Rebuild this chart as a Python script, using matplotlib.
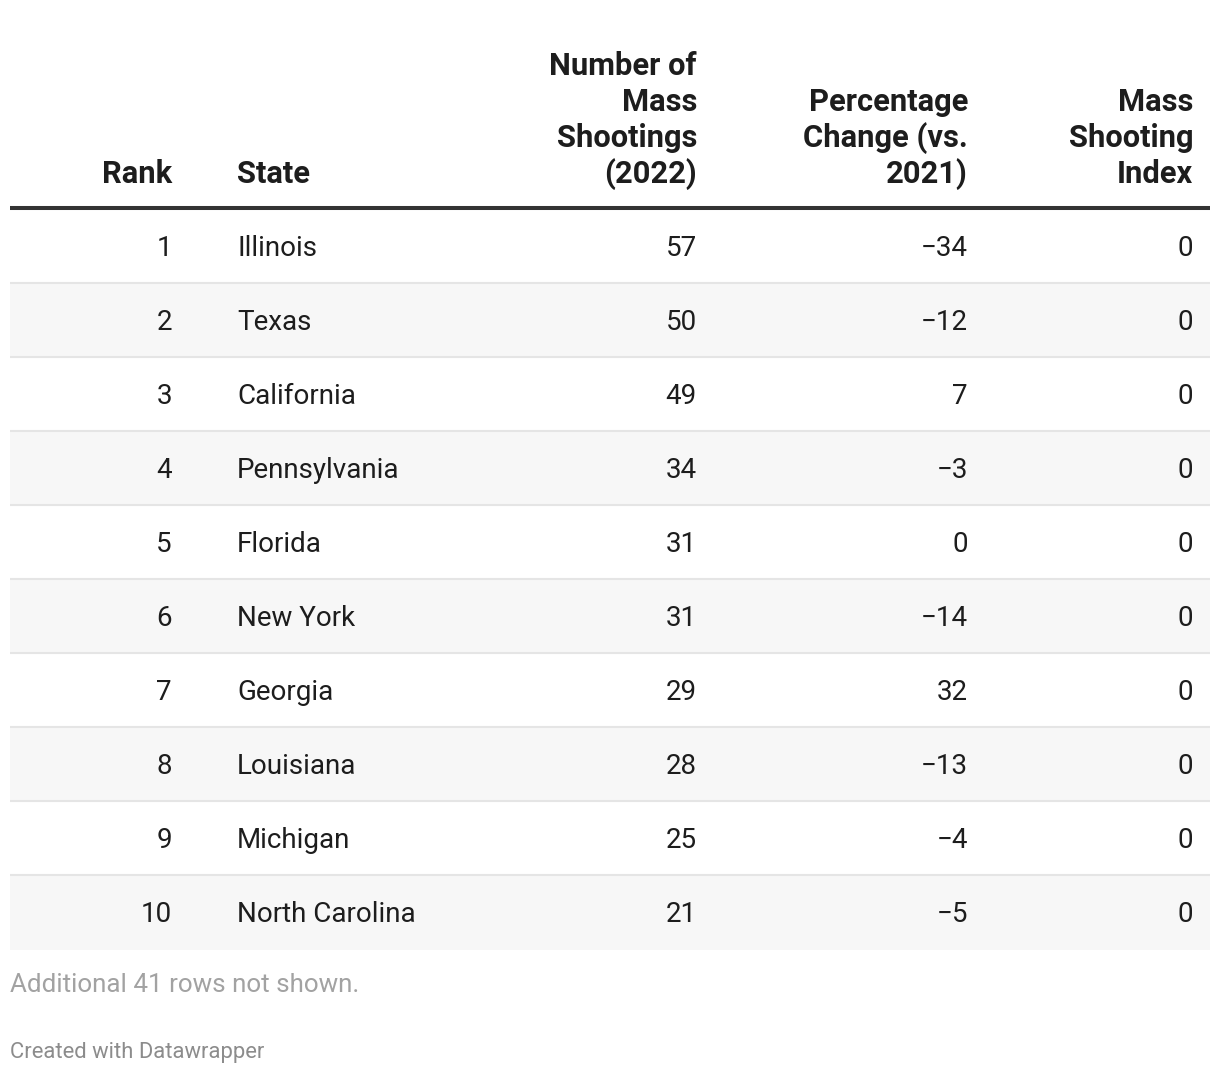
import matplotlib
matplotlib.use("Agg")
import matplotlib.pyplot as plt

plt.rcParams['font.family'] = ['Roboto', 'DejaVu Sans']

# table data
ranks = [1, 2, 3, 4, 5, 6, 7, 8, 9, 10]
states = ["Illinois", "Texas", "California", "Pennsylvania", "Florida",
          "New York", "Georgia", "Louisiana", "Michigan", "North Carolina"]
shootings = [57, 50, 49, 34, 31, 31, 29, 28, 25, 21]
pct_change = [-34, -12, 7, -3, 0, -14, 32, -13, -4, -5]
index = [0, 0, 0, 0, 0, 0, 0, 0, 0, 0]

headers = ["Rank", "State", "Number of\nMass\nShootings\n(2022)",
           "Percentage\nChange (vs.\n2021)", "Mass\nShooting\nIndex"]
footnote = "Additional 41 rows not shown."
credit = "Created with Datawrapper"

W, H = 1220, 1074
fig = plt.figure(figsize=(W / 100, H / 100), dpi=100)
ax = fig.add_axes([0, 0, 1, 1])
ax.set_xlim(0, W)
ax.set_ylim(H, 0)
ax.axis('off')

left, right = 10, 1210
col_x = [172, 237, 697, 968, 1193]
col_ha = ['right', 'left', 'right', 'right', 'right']
row_top0 = 210
row_h = 74
dark = '#1d1d1d'

def fmt(v):
    s = str(abs(v))
    return ('\u2212' + s) if v < 0 else s

# header
line_gap = 36
for x, ha, h in zip(col_x, col_ha, headers):
    lines = h.split('\n')
    for k, ln in enumerate(lines):
        y = 183 - line_gap * (len(lines) - 1 - k)
        ax.text(x, y, ln, ha=ha, va='baseline', fontsize=22.2,
                fontweight='bold', color=dark)

ax.plot([left, right], [208, 208], color='#333333', lw=2.9,
        solid_capstyle='butt')

# rows
for i in range(len(ranks)):
    top = row_top0 + row_h * i
    if i % 2 == 1:
        ax.fill_between([left, right], top, top + row_h, color='#f7f7f7', lw=0)
    if i < len(ranks) - 1:
        ax.plot([left, right], [top + row_h - 1, top + row_h - 1],
                color='#e5e5e5', lw=1.5, solid_capstyle='butt')
    vals = [str(ranks[i]), states[i], str(shootings[i]),
            fmt(pct_change[i]), str(index[i])]
    for x, ha, v in zip(col_x, col_ha, vals):
        ax.text(x, top + 46, v, ha=ha, va='baseline', fontsize=20,
                color=dark)

ax.text(left, 992, footnote, ha='left', va='baseline', fontsize=18.7,
        color='#a2a2a2')
ax.text(left, 1058, credit, ha='left', va='baseline', fontsize=15.8,
        color='#8c8c8c')

fig.savefig('out.png', dpi=100, facecolor='white')
